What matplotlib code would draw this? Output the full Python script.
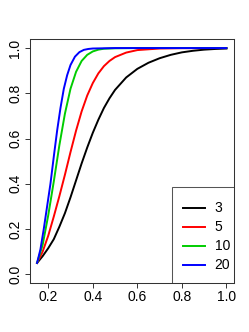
import matplotlib
matplotlib.use("Agg")
import matplotlib.pyplot as plt
from matplotlib.patches import Rectangle

plt.rcParams['font.family'] = ['Liberation Sans Narrow', 'Liberation Sans', 'DejaVu Sans']

# values
x_n3 = [0.15, 0.175, 0.20, 0.225, 0.25, 0.275, 0.30, 0.325, 0.35, 0.375,
        0.40, 0.425, 0.45, 0.475, 0.50, 0.55, 0.60, 0.65, 0.70, 0.75, 0.80,
        0.85, 0.90, 0.95, 1.00]
y_n3 = [0.05, 0.08, 0.115, 0.155, 0.21, 0.27, 0.34, 0.415, 0.49, 0.56,
        0.625, 0.683, 0.735, 0.778, 0.815, 0.87, 0.908, 0.935, 0.955, 0.97,
        0.981, 0.988, 0.993, 0.996, 0.998]

x_n5 = [0.15, 0.175, 0.20, 0.225, 0.25, 0.275, 0.30, 0.325, 0.35, 0.375,
        0.40, 0.425, 0.45, 0.475, 0.50, 0.55, 0.60, 0.70, 0.80, 1.00]
y_n5 = [0.05, 0.10, 0.17, 0.255, 0.345, 0.44, 0.54, 0.635, 0.72, 0.79,
        0.845, 0.888, 0.92, 0.943, 0.96, 0.98, 0.991, 0.998, 0.9995, 1.0]

x_n10 = [0.15, 0.175, 0.20, 0.225, 0.25, 0.275, 0.30, 0.325, 0.35, 0.375,
         0.40, 0.425, 0.45, 0.50, 0.60, 1.00]
y_n10 = [0.05, 0.13, 0.26, 0.41, 0.57, 0.71, 0.82, 0.895, 0.943, 0.97,
         0.985, 0.993, 0.997, 0.999, 1.0, 1.0]

x_n20 = [0.15, 0.165, 0.18, 0.195, 0.21, 0.225, 0.24, 0.255, 0.27, 0.285,
         0.30, 0.32, 0.34, 0.36, 0.38, 0.40, 0.50, 1.00]
y_n20 = [0.05, 0.11, 0.20, 0.30, 0.40, 0.52, 0.635, 0.735, 0.82, 0.88,
         0.925, 0.962, 0.982, 0.992, 0.996, 0.998, 1.0, 1.0]

labels = ["3", "5", "10", "20"]
colors = ["black", "#FF0000", "#00CD00", "#0000FF"]

fig = plt.figure(figsize=(2.49, 3.32), dpi=100)
ax = fig.add_axes([0.1185, 0.1467, 0.8213, 0.7358])

series = [(x_n3, y_n3), (x_n5, y_n5), (x_n10, y_n10), (x_n20, y_n20)]
for (xs, ys), col in zip(series, colors):
    ax.plot(xs, ys, color=col, lw=1.4, solid_joinstyle='round')

ax.set_xlim(0.116, 1.034)
ax.set_ylim(-0.04, 1.04)
ax.set_xticks([0.2, 0.4, 0.6, 0.8, 1.0])
ax.set_xticklabels(["0.2", "0.4", "0.6", "0.8", "1.0"])
ax.set_yticks([0.0, 0.2, 0.4, 0.6, 0.8, 1.0])
ax.set_yticklabels(["0.0", "0.2", "0.4", "0.6", "0.8", "1.0"])
ax.tick_params(direction='out', length=3.6, width=0.7, labelsize=10,
               color='#333333', pad=1.5)
plt.setp(ax.get_yticklabels(), rotation=90, va='center')
for s in ax.spines.values():
    s.set_color('#333333')
    s.set_linewidth(0.75)

# legend box drawn by hand, R style
ax.add_patch(Rectangle((0.697, 0.0), 0.303, 0.393, transform=ax.transAxes,
                       facecolor='white', edgecolor='#555555', lw=0.75,
                       zorder=5))
rows = [0.309, 0.231, 0.153, 0.074]
for lab, col, yy in zip(labels, colors, rows):
    ax.plot([0.751, 0.858], [yy, yy], color=col, lw=1.4,
            transform=ax.transAxes, zorder=6)
    ax.text(0.905, yy, lab, transform=ax.transAxes, fontsize=10,
            ha='left', va='center', zorder=6)

fig.savefig("out.png", dpi=100)
